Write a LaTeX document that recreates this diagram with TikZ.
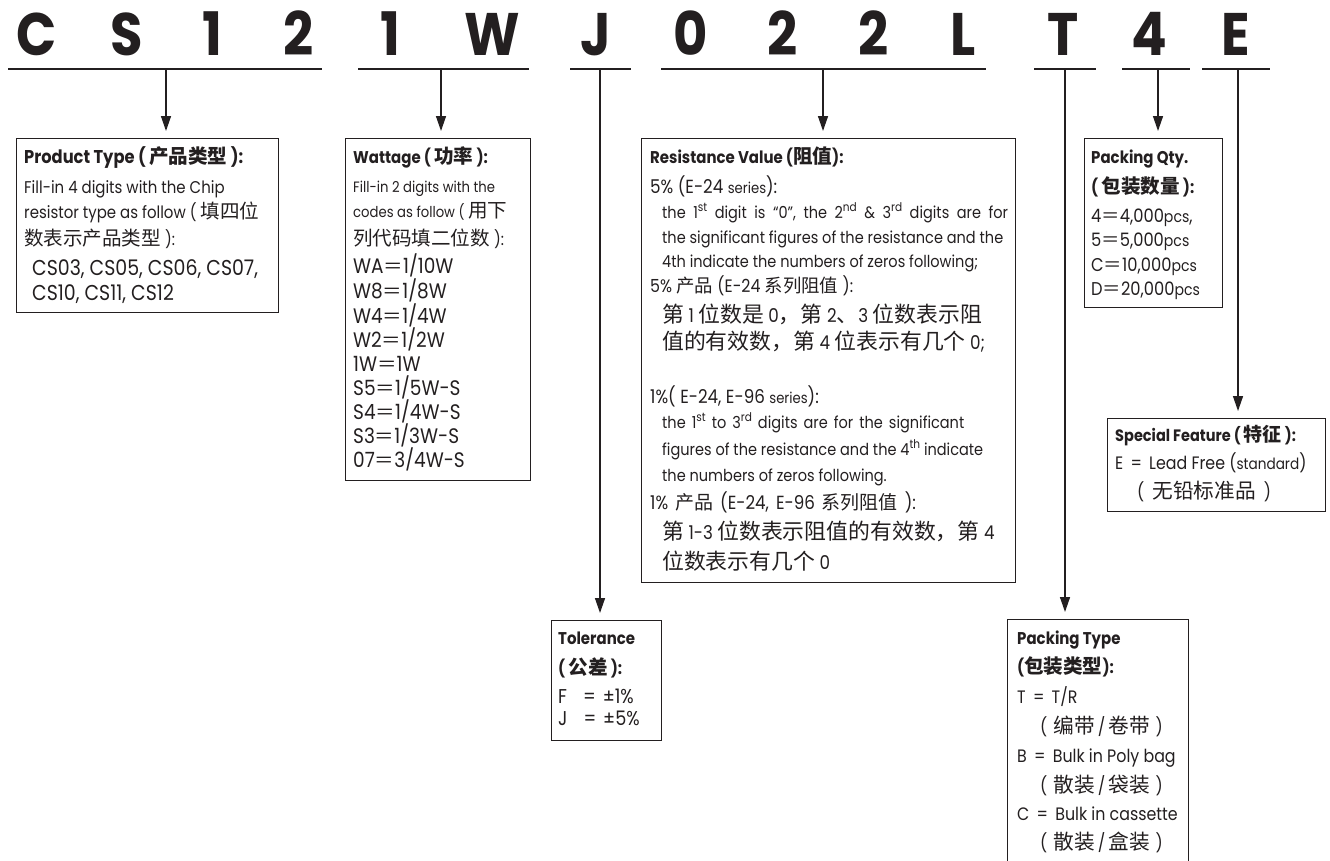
\documentclass[tikz,border=0pt]{standalone}
\usepackage{fontspec}
\setmainfont[FakeStretch=0.88]{Poppins}
\newfontfamily\cjk[Scale=1.15]{Noto Sans CJK SC}
\usepackage{xcolor}
\usepackage{tikz}
\usetikzlibrary{arrows.meta,positioning}
\definecolor{ink}{HTML}{231F20}
\newcommand\zh[1]{{\cjk #1}}
\newcommand\fsz[1]{\fontsize{#1}{#1}\selectfont}
\newcommand\sups[1]{\raisebox{0.42em}{\fsz{12}#1}}

\begin{document}
\begin{tikzpicture}[x=1pt,y=-1pt,
  box/.style={draw=ink,line width=1.2pt,anchor=north west,inner sep=0pt},
  code/.style={anchor=base,text=ink,font=\fsz{60}\bfseries},
  uline/.style={draw=ink,line width=2.2pt},
  arr/.style={draw=ink,line width=1.4pt,shorten >=7pt,-{Triangle[length=15pt,width=10pt]}},
  txt/.style={anchor=base west,inner sep=0pt,text=ink,font=\fsz{17}}]
\useasboundingbox (0,0) rectangle (1330,860);
\clip (0,0) rectangle (1330,860);

% part number
\foreach \ch/\xx [count=\i] in {C/37,S/127,1/212,2/299,1/390,W/492,J/596,0/691,2/783,2/874,L/963,T/1063,4/1149,E/1236}
  \node[code] (c\i) at (\xx,55) {\ch};

\draw[uline] (8,69) -- (322,69);
\draw[uline] (358,69) -- (529,69);
\draw[uline] (570,69) -- (631,69);
\draw[uline] (661,69) -- (986,69);
\draw[uline] (1034,69) -- (1096,69);
\draw[uline] (1122,69) -- (1190,69);
\draw[uline] (1202,69) -- (1270,69);

% boxes
\node[box,minimum width=262,minimum height=174] (ptype) at (16,138) {};
\node[box,minimum width=185,minimum height=342] (watt) at (345,138) {};
\node[box,minimum width=374,minimum height=444] (resv) at (641,138) {};
\node[box,minimum width=138,minimum height=169] (pqty) at (1084,138) {};
\node[box,minimum width=218,minimum height=93] (spec) at (1107,418) {};
\node[box,minimum width=110,minimum height=120] (tol) at (551,620) {};
\node[box,minimum width=181,minimum height=260] (ptyp) at (1007,619) {};

% arrows
\coordinate (u1) at (166,69);
\coordinate (u2) at (441,69);
\coordinate (u3) at (600,69);
\coordinate (u4) at (823,69);
\coordinate (u5) at (1065,69);
\coordinate (u6) at (1158,69);
\coordinate (u7) at (1238,69);
\draw[arr] (u1) -- (u1 |- ptype.north);
\draw[arr] (u2) -- (u2 |- watt.north);
\draw[arr] (u3) -- (u3 |- tol.north);
\draw[arr] (u4) -- (u4 |- resv.north);
\draw[arr] (u5) -- (u5 |- ptyp.north);
\draw[arr] (u6) -- (u6 |- pqty.north);
\draw[arr] (u7) -- (u7 |- spec.north);

% product type
\foreach \yy/\tline [count=\i] in {
  163/{\fsz{18.5}\bfseries Product Type ( \zh{\fsz{17}产品类型} ):},
  193/{Fill-in 4 digits with the Chip},
  218/{resistor type as follow ( \zh{填四位}},
  245/{\zh{数表示产品类型} ):},
  275/{\fsz{21.5}\hspace{8pt}CS03, CS05, CS06, CS07,},
  300/{\fsz{21.5}\hspace{8pt}CS10, CS11, CS12}}
  \node[txt] (ptype-\i) at (24,\yy) {\tline};

% wattage
\foreach \yy/\tline [count=\i] in {
  163/{\bfseries Wattage ( \zh{功率} ):},
  192/{\fsz{15}Fill-in 2 digits with the},
  217/{\fsz{15}codes as follow ( \zh{\fsz{17}用下}},
  245/{\zh{列代码填二位数} ):},
  273/{\fsz{21}WA\zh{\fsz{17}＝}1/10W},
  298/{\fsz{21}W8\zh{\fsz{17}＝}1/8W},
  323/{\fsz{21}W4\zh{\fsz{17}＝}1/4W},
  347/{\fsz{21}W2\zh{\fsz{17}＝}1/2W},
  371/{\fsz{21}1W\zh{\fsz{17}＝}1W},
  395/{\fsz{21}S5\zh{\fsz{17}＝}1/5W-S},
  419/{\fsz{21}S4\zh{\fsz{17}＝}1/4W-S},
  443/{\fsz{21}S3\zh{\fsz{17}＝}1/3W-S},
  467/{\fsz{21}07\zh{\fsz{17}＝}3/4W-S}}
  \node[txt] (watt-\i) at (353,\yy) {\tline};

% resistance value
\foreach \yy/\tline [count=\i] in {
  163/{\bfseries Resistance Value (\zh{阻值}):},
  193/{\fsz{19}5\% (E-24 {\fsz{15}series}):},
  218/{\fsz{16.5}\spaceskip=7.5pt\hspace{12pt}the 1\sups{st} digit is “0”, the 2\sups{nd} \& 3\sups{rd} digits are for},
  243/{\fsz{16.5}\hspace{12pt}the significant figures of the resistance and the},
  267/{\fsz{16.5}\hspace{12pt}4th indicate the numbers of zeros following;},
  292/{\fsz{18}5\% \zh{\fsz{16}产品} (E-24 \zh{\fsz{16}系列阻值} ):},
  322/{\fsz{19}\hspace{12pt}\zh{第} 1 \zh{位数是} 0\zh{，第} 2\zh{、}3 \zh{位数表示阻}},
  349/{\fsz{19}\hspace{12pt}\zh{值的有效数，第} 4 \zh{位表示有几个} 0;},
  403/{\fsz{19}1\%( E-24, E-96 {\fsz{15}series}):},
  428/{\fsz{16.5}\spaceskip=6pt\hspace{12pt}the 1\sups{st} to 3\sups{rd} digits are for the significant},
  455/{\fsz{16.5}\hspace{12pt}figures of the resistance and the 4\sups{th} indicate},
  481/{\fsz{16.5}\hspace{12pt}the numbers of zeros following.},
  509/{\fsz{19}\spaceskip=7pt 1\% \zh{\fsz{16.5}产品} (E-24, E-96 \zh{\fsz{16.5}系列阻值} ):},
  539/{\fsz{19}\hspace{12pt}\zh{第} 1-3 \zh{位数表示阻值的有效数，第} 4},
  569/{\fsz{19}\hspace{12pt}\zh{位数表示有几个} 0}}
  \node[txt] (resv-\i) at (650,\yy) {\tline};

% packing qty
\foreach \yy/\tline [count=\i] in {
  163/{\bfseries Packing Qty.},
  193/{\bfseries ( \zh{包装数量} ):},
  222/{\fsz{18.5}4\zh{\fsz{16}＝}4,000{\fsz{16}pcs},},
  246/{\fsz{18.5}5\zh{\fsz{16}＝}5,000{\fsz{16}pcs}},
  271/{\fsz{18.5}C\zh{\fsz{16}＝}10,000{\fsz{16}pcs}},
  295/{\fsz{18.5}D\zh{\fsz{16}＝}20,000{\fsz{16}pcs}}}
  \node[txt] (pqty-\i) at (1091,\yy) {\tline};

% special feature
\foreach \yy/\tline [count=\i] in {
  441/{\fsz{16.5}\bfseries Special Feature ( \zh{特征} ):},
  469/{\fsz{18}E \,=\, Lead Free ({\fsz{15.5}standard})},
  498/{\fsz{18}\hspace{22pt}(\hspace{8pt}\zh{无铅标准品}\hspace{8pt})}}
  \node[txt] (spec-\i) at (1115,\yy) {\tline};

% tolerance
\foreach \yy/\tline [count=\i] in {
  644/{\bfseries Tolerance},
  674/{\bfseries ( \zh{公差} ):},
  703/{\fsz{20}F\hspace{16pt}=\hspace{7pt}±1\%},
  725/{\fsz{20}J\hspace{16pt}=\hspace{7pt}±5\%}}
  \node[txt] (tol-\i) at (558,\yy) {\tline};

% packing type
\foreach \yy/\tline [count=\i] in {
  644/{\bfseries Packing Type},
  673/{\bfseries (\zh{包装类型}):},
  703/{\fsz{18}T \,=\, T/R},
  733/{\fsz{18}\hspace{23pt}(\hspace{6pt}\zh{编带}\hspace{3pt}/\hspace{3pt}\zh{卷带}\hspace{6pt})},
  762/{\fsz{18}B \,=\, Bulk in Poly bag},
  792/{\fsz{18}\hspace{23pt}(\hspace{6pt}\zh{散装}\hspace{3pt}/\hspace{3pt}\zh{袋装}\hspace{6pt})},
  820/{\fsz{18}C \,=\, Bulk in cassette},
  849/{\fsz{18}\hspace{23pt}(\hspace{6pt}\zh{散装}\hspace{3pt}/\hspace{3pt}\zh{盒装}\hspace{6pt})}}
  \node[txt] (ptyp-\i) at (1017,\yy) {\tline};
\end{tikzpicture}
\end{document}
